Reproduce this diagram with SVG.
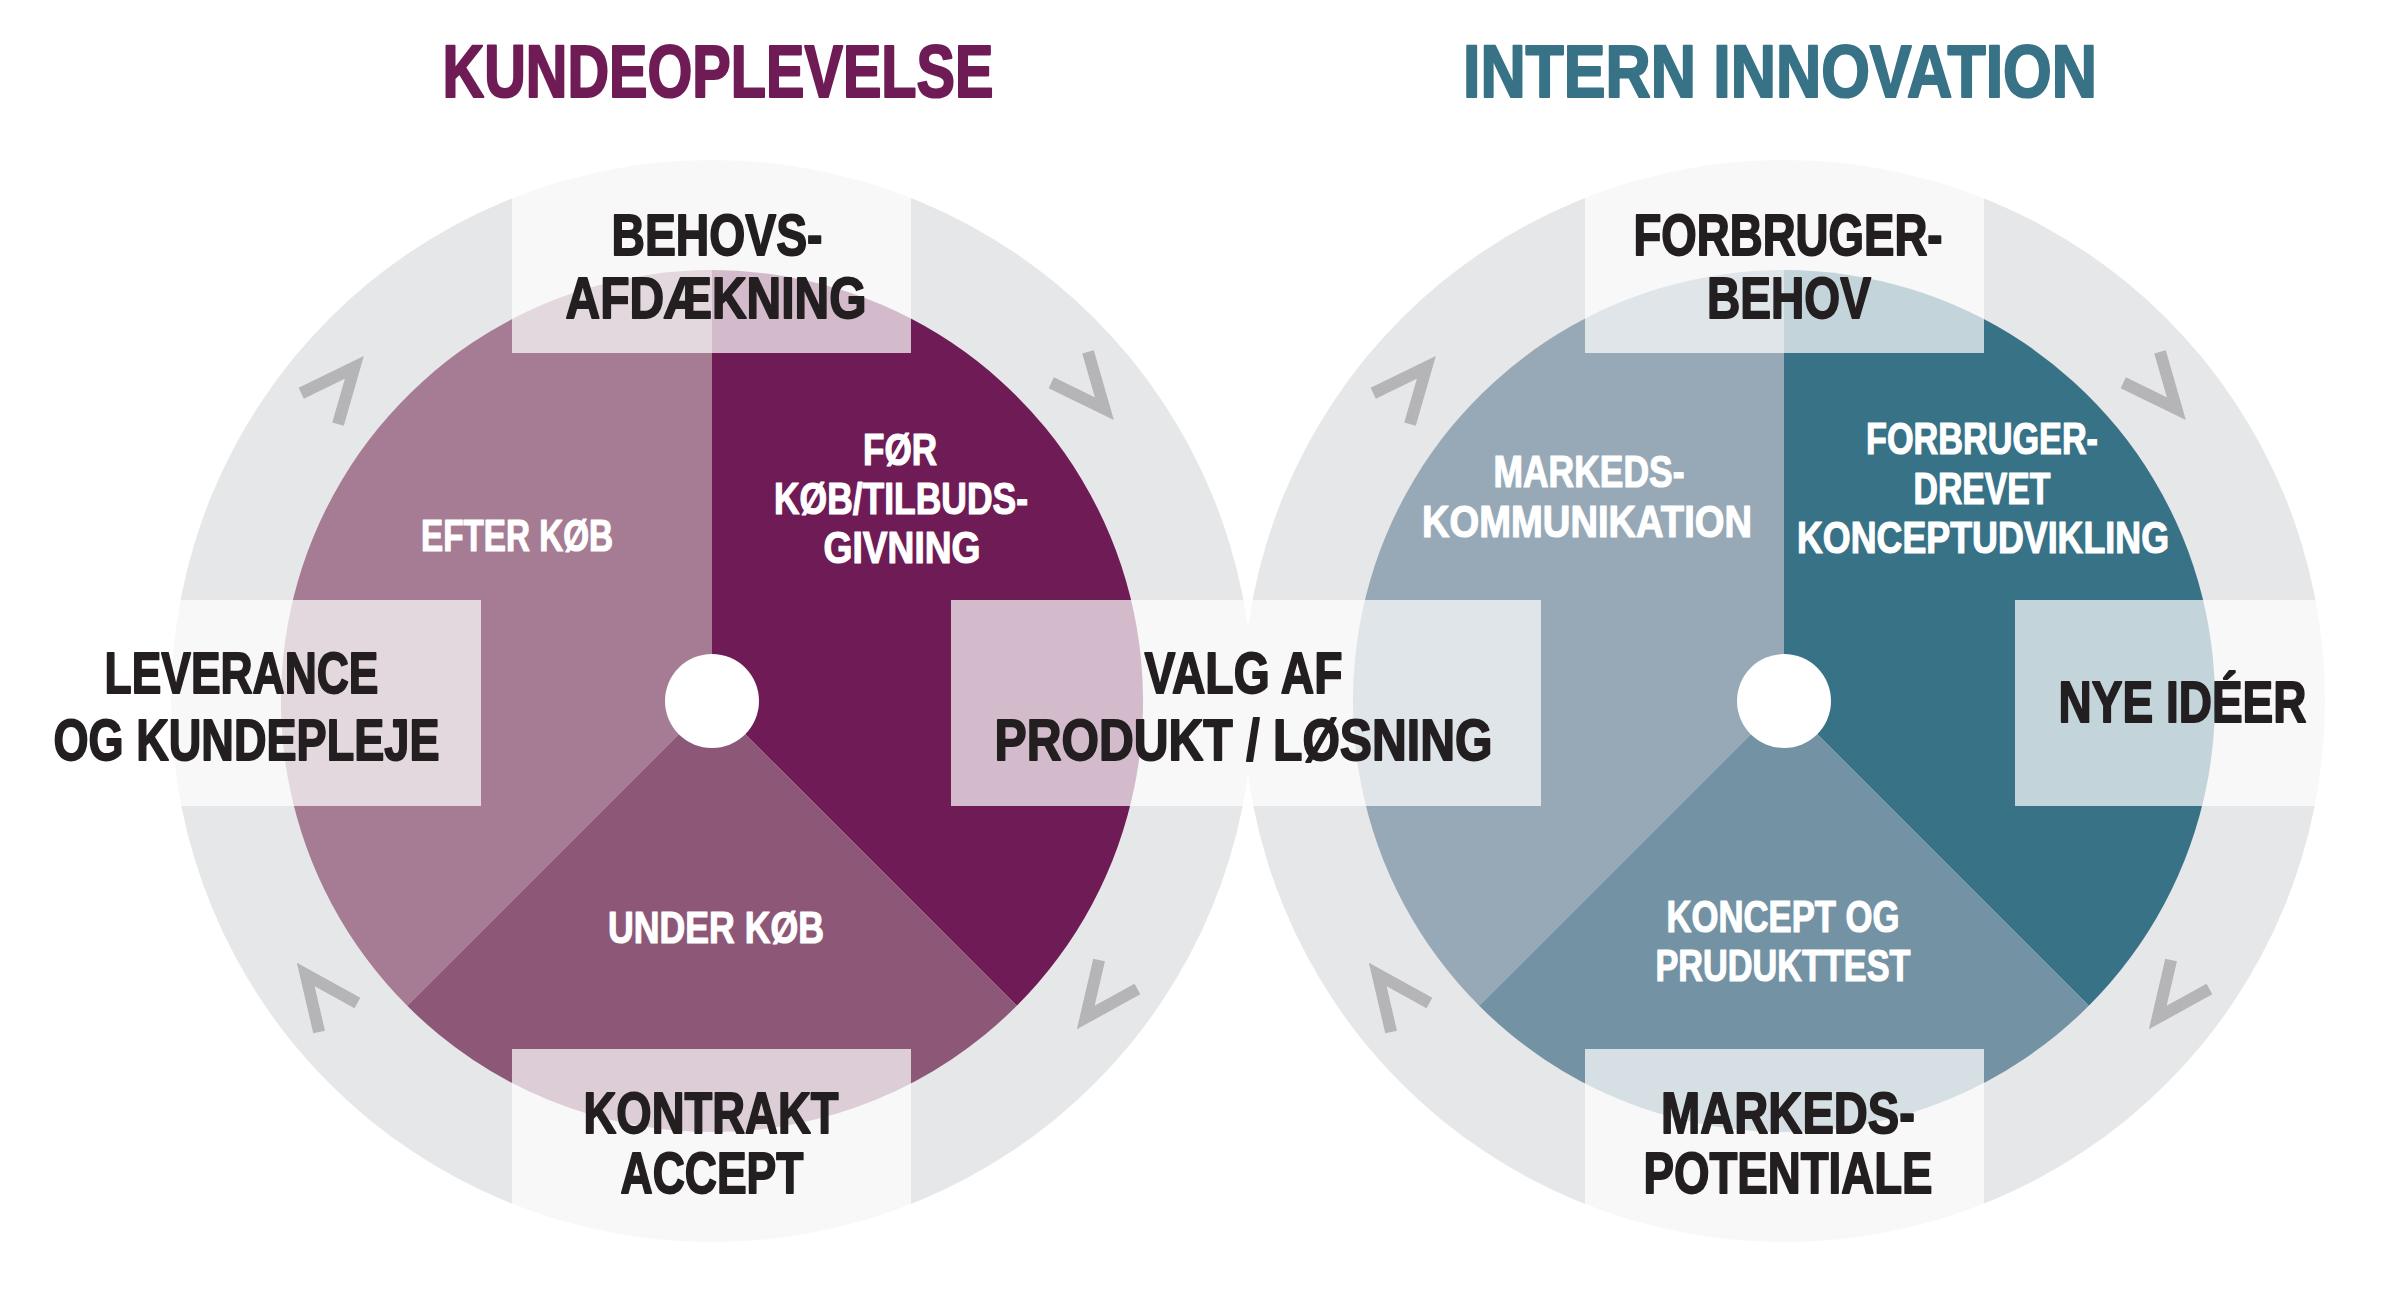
<svg xmlns="http://www.w3.org/2000/svg" width="2387" height="1289" viewBox="0 0 2387 1289">
  <style>
    text { font-family: "Liberation Sans Narrow", "Liberation Sans", Arial, sans-serif; font-weight: bold; text-anchor: middle; stroke-linejoin: round; }
    .title { font-size: 75px; stroke-width: 2.2px; }
    .t1 { fill: #6f1c56; stroke: #6f1c56; }
    .t2 { fill: #387287; stroke: #387287; }
    .lbl { font-size: 58px; fill: #231f20; stroke: #231f20; stroke-width: 1.8px; }
    .wl { font-size: 44px; fill: #ffffff; stroke: #ffffff; stroke-width: 1.2px; }
    .ring { fill: #e6e7e8; }
    .box { fill: #ffffff; fill-opacity: 0.7; }
    .hub { fill: #ffffff; }
    .chev { fill: none; stroke: #b5b5b7; stroke-width: 12; stroke-linejoin: miter; stroke-miterlimit: 10; }
  </style>
  <defs>
    <path id="chev" d="M-27,-24 L27,0 L-27,24" class="chev"/>
  </defs>
  <rect width="2387" height="1289" fill="#ffffff"/>

  <!-- rings -->
  <g id="rings">
    <circle class="ring" cx="712" cy="701" r="541"/>
    <circle class="ring" cx="1784" cy="701" r="541"/>
  </g>

  <!-- left wheel sectors -->
  <g id="kunde-wheel">
    <path id="efter-koeb-sector" d="M712,701 L407.2,1005.8 A431,431 0 0 1 712,270 Z" fill="#a67c94"/>
    <path id="foer-koeb-sector" d="M712,701 L712,270 A431,431 0 0 1 1016.8,1005.8 Z" fill="#6f1c56"/>
    <path id="under-koeb-sector" d="M712,701 L1016.8,1005.8 A431,431 0 0 1 407.2,1005.8 Z" fill="#8d5878"/>
    <circle class="hub" cx="712" cy="701" r="47"/>
  </g>

  <!-- right wheel sectors -->
  <g id="innovation-wheel">
    <path id="markeds-sector" d="M1784,701 L1479.2,1005.8 A431,431 0 0 1 1784,270 Z" fill="#97a9b7"/>
    <path id="forbruger-sector" d="M1784,701 L1784,270 A431,431 0 0 1 2088.8,1005.8 Z" fill="#387287"/>
    <path id="koncept-sector" d="M1784,701 L2088.8,1005.8 A431,431 0 0 1 1479.2,1005.8 Z" fill="#7393a5"/>
    <circle class="hub" cx="1784" cy="701" r="47"/>
  </g>

  <!-- connectors: chevrons along the rings -->
  <g id="connectors">
    <use href="#chev" transform="translate(337,388) rotate(-50)"/>
    <use href="#chev" transform="translate(1087,388) rotate(50)"/>
    <use href="#chev" transform="translate(1102,996) rotate(127)"/>
    <use href="#chev" transform="translate(322,996) rotate(233)"/>
    <use href="#chev" transform="translate(1409,388) rotate(-50)"/>
    <use href="#chev" transform="translate(2159,388) rotate(50)"/>
    <use href="#chev" transform="translate(2174,996) rotate(127)"/>
    <use href="#chev" transform="translate(1394,996) rotate(233)"/>
  </g>

  <!-- titles -->
  <g id="title-kundeoplevelse">
    <text class="title t1" x="718" y="97" textLength="551" lengthAdjust="spacingAndGlyphs">KUNDEOPLEVELSE</text>
  </g>
  <g id="title-intern-innovation">
    <text class="title t2" x="1780" y="97" textLength="634" lengthAdjust="spacingAndGlyphs">INTERN INNOVATION</text>
  </g>

  <!-- left wheel stage nodes -->
  <g id="node-behovsafdaekning">
    <rect class="box" x="512" y="150" width="399" height="203"/>
    <text class="lbl" x="717" y="255" textLength="211" lengthAdjust="spacingAndGlyphs">BEHOVS-</text>
    <text class="lbl" x="716" y="318" textLength="301" lengthAdjust="spacingAndGlyphs">AFDÆKNING</text>
  </g>
  <g id="node-leverance">
    <rect class="box" x="160" y="600" width="321" height="206"/>
    <text class="lbl" x="241.5" y="693" textLength="274" lengthAdjust="spacingAndGlyphs">LEVERANCE</text>
    <text class="lbl" x="246.5" y="760" textLength="386" lengthAdjust="spacingAndGlyphs">OG KUNDEPLEJE</text>
  </g>
  <g id="node-valg-af-produkt">
    <rect class="box" x="951" y="600" width="590" height="206"/>
    <text class="lbl" x="1243.5" y="693" textLength="198" lengthAdjust="spacingAndGlyphs">VALG AF</text>
    <text class="lbl" x="1243.5" y="760" textLength="498" lengthAdjust="spacingAndGlyphs">PRODUKT / LØSNING</text>
  </g>
  <g id="node-kontrakt-accept">
    <rect class="box" x="512" y="1049" width="399" height="205"/>
    <text class="lbl" x="711" y="1133" textLength="255" lengthAdjust="spacingAndGlyphs">KONTRAKT</text>
    <text class="lbl" x="712" y="1193" textLength="183" lengthAdjust="spacingAndGlyphs">ACCEPT</text>
  </g>

  <!-- right wheel stage nodes -->
  <g id="node-forbrugerbehov">
    <rect class="box" x="1585" y="150" width="399" height="203"/>
    <text class="lbl" x="1788" y="255" textLength="309" lengthAdjust="spacingAndGlyphs">FORBRUGER-</text>
    <text class="lbl" x="1789" y="318" textLength="164" lengthAdjust="spacingAndGlyphs">BEHOV</text>
  </g>
  <g id="node-nye-ideer">
    <rect class="box" x="2015" y="600" width="320" height="206"/>
    <text class="lbl" x="2182.5" y="722" textLength="248" lengthAdjust="spacingAndGlyphs">NYE IDÉER</text>
  </g>
  <g id="node-markedspotentiale">
    <rect class="box" x="1585" y="1049" width="399" height="205"/>
    <text class="lbl" x="1788" y="1133" textLength="254" lengthAdjust="spacingAndGlyphs">MARKEDS-</text>
    <text class="lbl" x="1788" y="1193" textLength="289" lengthAdjust="spacingAndGlyphs">POTENTIALE</text>
  </g>

  <!-- sector labels, left wheel -->
  <g id="label-efter-koeb">
    <text class="wl" x="517" y="551" textLength="192" lengthAdjust="spacingAndGlyphs">EFTER KØB</text>
  </g>
  <g id="label-foer-koeb">
    <text class="wl" x="900" y="465" textLength="74" lengthAdjust="spacingAndGlyphs">FØR</text>
    <text class="wl" x="901" y="514" textLength="254" lengthAdjust="spacingAndGlyphs">KØB/TILBUDS-</text>
    <text class="wl" x="902" y="563" textLength="157" lengthAdjust="spacingAndGlyphs">GIVNING</text>
  </g>
  <g id="label-under-koeb">
    <text class="wl" x="716" y="943" textLength="216" lengthAdjust="spacingAndGlyphs">UNDER KØB</text>
  </g>

  <!-- sector labels, right wheel -->
  <g id="label-markedskommunikation">
    <text class="wl" x="1589" y="487" textLength="191" lengthAdjust="spacingAndGlyphs">MARKEDS-</text>
    <text class="wl" x="1587" y="537" textLength="330" lengthAdjust="spacingAndGlyphs">KOMMUNIKATION</text>
  </g>
  <g id="label-forbrugerdrevet">
    <text class="wl" x="1982" y="454" textLength="232" lengthAdjust="spacingAndGlyphs">FORBRUGER-</text>
    <text class="wl" x="1982" y="504" textLength="137" lengthAdjust="spacingAndGlyphs">DREVET</text>
    <text class="wl" x="1983" y="553" textLength="372" lengthAdjust="spacingAndGlyphs">KONCEPTUDVIKLING</text>
  </g>
  <g id="label-koncept-produkttest">
    <text class="wl" x="1783" y="932" textLength="233" lengthAdjust="spacingAndGlyphs">KONCEPT OG</text>
    <text class="wl" x="1783" y="981" textLength="255" lengthAdjust="spacingAndGlyphs">PRUDUKTTEST</text>
  </g>
</svg>
